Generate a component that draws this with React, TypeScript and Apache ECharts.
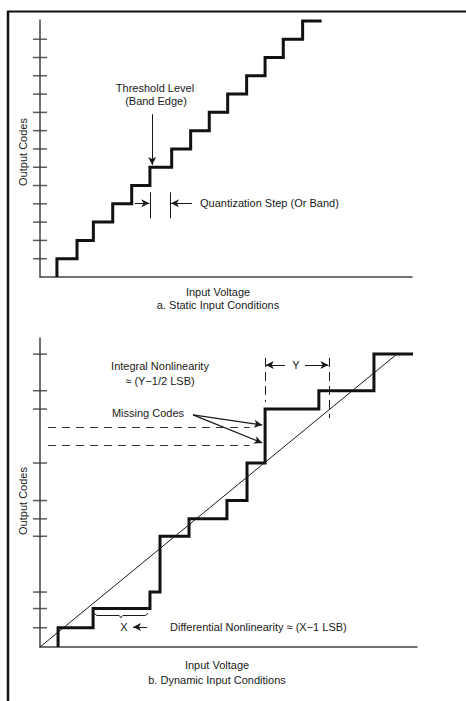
import React, { useEffect, useRef } from "react";
import * as echarts from "echarts";

// ---- Data: (a) static input conditions ----
const topRiserX = [0.91, 1.99, 2.87, 3.91, 4.93, 5.91, 7.08, 8.1, 9.1, 10.09, 11.11, 12.1, 13.08, 14.12];
const topLevels = [1, 2, 3, 4, 5, 6, 7, 8, 9, 10, 11, 12, 13, 14];
const topEndX = 15.14;
const topTickLevels = [1, 2, 3, 4, 5, 6, 7, 8, 9, 10, 11, 12, 13];

// ---- Data: (b) dynamic input conditions ----
const botRiserX = [0.81, 2.38, 4.93, 5.38, 6.68, 8.38, 9.28, 10.09, 12.5, 14.97];
const botLevels = [1.05, 2.1, 3, 6.05, 7, 8, 10.05, 13, 14, 16];
const botEndX = 16.72;
const botTickLevels = [1.05, 2.1, 3, 6.05, 7, 8, 10.05, 13, 14, 16];
const idealLine = [[0, 0], [16, 16]];
const missingCodes = [11, 12];

function stairs(risers: number[], levels: number[], endX: number) {
  const pts: number[][] = [];
  let prev = 0;
  risers.forEach((x, i) => {
    pts.push([x, prev]);
    pts.push([x, levels[i]]);
    prev = levels[i];
  });
  pts.push([endX, prev]);
  return pts;
}

const FONT = "'Liberation Sans', Arial, sans-serif";
const INK = "#1a1a1a";

function seg(a: number[], b: number[], arrowEnd: boolean, arrowStart = false, style: any = {}) {
  return [
    { coord: a, symbol: arrowStart ? "arrow" : "none", symbolSize: [6, 8], lineStyle: style },
    { coord: b, symbol: arrowEnd ? "arrow" : "none", symbolSize: [6, 8], lineStyle: style },
  ];
}

function txt(x: number, y: number, text: string, align = "center", rotation = 0) {
  return {
    type: "text",
    x,
    y,
    rotation,
    silent: true,
    style: {
      text,
      fill: INK,
      font: `11px ${FONT}`,
      textAlign: align,
      textVerticalAlign: "middle",
    },
  };
}

export default function App() {
  const ref = useRef<HTMLDivElement>(null);
  useEffect(() => {
    document.body.style.margin = "0";
    const chart = echarts.init(ref.current!, null, { renderer: "svg" });
    const axisLine = { show: true, lineStyle: { color: "#444", width: 1.5 } };
    const baseAxis = {
      type: "value" as const,
      axisLine,
      axisTick: { show: false },
      axisLabel: { show: false },
      splitLine: { show: false },
    };
    const markBase = {
      silent: true,
      animation: false,
      label: { show: false },
      emphasis: { disabled: true },
      lineStyle: { color: INK, width: 1, type: "solid" },
    };
    const tickSeries = (levels: number[], idx: number) => ({
      type: "scatter",
      xAxisIndex: idx,
      yAxisIndex: idx,
      symbol: "rect",
      symbolSize: [14, 1.5],
      itemStyle: { color: "#333" },
      silent: true,
      clip: false,
      data: levels.map((v) => [0, v]),
      z: 3,
    });

    const braceV = 1.72;
    chart.setOption({
      animation: false,
      grid: [
        { left: 40, top: 20, width: 372, height: 257 },
        { left: 40, top: 338, width: 377, height: 309 },
      ],
      xAxis: [
        { ...baseAxis, gridIndex: 0, min: 0, max: 20 },
        { ...baseAxis, gridIndex: 1, min: 0, max: 16.9 },
      ],
      yAxis: [
        { ...baseAxis, gridIndex: 0, min: 0, max: 14.05 },
        { ...baseAxis, gridIndex: 1, min: 0, max: 16.88 },
      ],
      series: [
        {
          type: "line",
          xAxisIndex: 0,
          yAxisIndex: 0,
          data: stairs(topRiserX, topLevels, topEndX),
          showSymbol: false,
          clip: false,
          lineStyle: { color: "#111", width: 3, join: "miter" },
          z: 4,
          markLine: {
            ...markBase,
            data: [
              seg([6.03, 8.9], [6.03, 6.12], true),
              seg([5.91, 4.63], [5.91, 3.21], false),
              seg([7.0, 4.63], [7.0, 3.21], false),
              seg([5.1, 4.03], [5.88, 4.03], true),
              seg([8.17, 4.03], [7.04, 4.03], true),
            ],
          },
        },
        tickSeries(topTickLevels, 0),
        {
          type: "line",
          xAxisIndex: 1,
          yAxisIndex: 1,
          data: stairs(botRiserX, botLevels, botEndX),
          showSymbol: false,
          clip: false,
          lineStyle: { color: "#111", width: 3, join: "miter" },
          z: 4,
        },
        {
          type: "line",
          xAxisIndex: 1,
          yAxisIndex: 1,
          data: idealLine,
          showSymbol: false,
          clip: false,
          lineStyle: { color: INK, width: 1 },
          z: 5,
          markLine: {
            ...markBase,
            data: [
              ...missingCodes.map((c) =>
                seg([0.36, c], [9.4, c], false, false, { type: [8, 6], width: 1, color: "#333" })
              ),
              seg([6.86, 12.68], [9.96, 12.13], true, false, { width: 1.3 }),
              seg([6.86, 12.68], [9.96, 11.15], true, false, { width: 1.3 }),
              seg([10.09, 15.79], [10.09, 13.39], false, false, { type: [9, 5] }),
              seg([12.96, 15.79], [12.96, 12.51], false, false, { type: [9, 5] }),
              seg([10.98, 15.41], [10.12, 15.41], true),
              seg([11.88, 15.41], [12.93, 15.41], true),
              seg([4.8, 1.09], [4.17, 1.09], true),
            ],
          },
        },
        tickSeries(botTickLevels, 1),
        {
          type: "lines",
          coordinateSystem: "cartesian2d",
          xAxisIndex: 1,
          yAxisIndex: 1,
          polyline: true,
          silent: true,
          z: 6,
          lineStyle: { color: INK, width: 1, opacity: 1 },
          data: [
            {
              coords: [
                [2.42, braceV + 0.12],
                [2.55, braceV],
                [3.55, braceV],
                [3.63, braceV - 0.12],
                [3.71, braceV],
                [4.72, braceV],
                [4.85, braceV + 0.12],
              ],
            },
          ],
        },
      ],
      graphic: [
        {
          type: "line",
          silent: true,
          shape: { x1: 8, y1: 11, x2: 8, y2: 701 },
          style: { stroke: "#111", lineWidth: 2.5 },
        },
        {
          type: "line",
          silent: true,
          shape: { x1: 7, y1: 11.5, x2: 466, y2: 11.5 },
          style: { stroke: "#111", lineWidth: 2 },
        },
        txt(155, 88, "Threshold Level"),
        txt(156, 100.5, "(Band Edge)"),
        txt(200, 203, "Quantization Step (Or Band)", "left"),
        txt(218, 292, "Input Voltage"),
        txt(218, 305, "a. Static Input Conditions"),
        txt(23, 152, "Output Codes", "center", Math.PI / 2),
        txt(160, 366, "Integral Nonlinearity"),
        txt(160, 381, "≈ (Y−1/2 LSB)"),
        txt(148, 413, "Missing Codes"),
        txt(296, 365, "Y"),
        txt(124, 627, "X"),
        txt(170, 627, "Differential Nonlinearity ≈ (X−1 LSB)", "left"),
        txt(23, 501, "Output Codes", "center", Math.PI / 2),
        txt(217, 665, "Input Voltage"),
        txt(217, 680, "b. Dynamic Input Conditions"),
      ],
    });
    return () => chart.dispose();
  }, []);
  return <div ref={ref} style={{ width: 466, height: 701 }} />;
}
